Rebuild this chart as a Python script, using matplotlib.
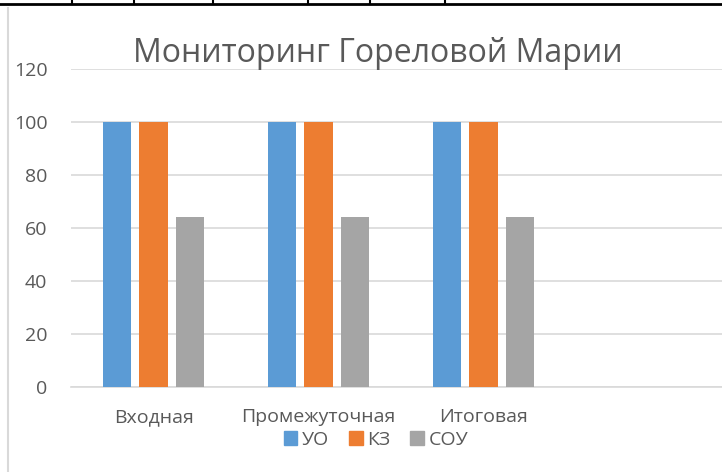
import numpy as np
import matplotlib.pyplot as plt
from matplotlib.lines import Line2D

# --- Data ---
categories = ['Входная', 'Промежуточная', 'Итоговая', '']
uo = [100, 100, 100, np.nan]
kz = [100, 100, 100, np.nan]
sou = [64, 64, 64, np.nan]
series_names = ['УО', 'КЗ', 'СОУ']
yticks = [0, 20, 40, 60, 80, 100, 120]

# Colors
COLOR_UO = '#5B9BD5'
COLOR_KZ = '#ED7D31'
COLOR_SOU = '#A5A5A5'
COLOR_TEXT = '#595959'
COLOR_GRID = '#D9D9D9'

plt.rcParams['font.family'] = ['Open Sans', 'DejaVu Sans']

W, H = 722, 472
fig = plt.figure(figsize=(W / 100, H / 100), dpi=100)
fig.patch.set_facecolor('white')

# plot area in pixels: x 71..731 (runs past the right edge), y 69..387
left, right = 71, 731
top, bottom = 69, 387
ax = fig.add_axes([left / W, 1 - bottom / H, (right - left) / W, (bottom - top) / H])

x = np.arange(len(categories))
bw = 0.17
off = 0.221
ax.bar(x - off, uo, bw, color=COLOR_UO, zorder=3)
ax.bar(x, kz, bw, color=COLOR_KZ, zorder=3)
ax.bar(x + off, sou, bw, color=COLOR_SOU, zorder=3)

ax.set_xlim(-0.5, len(categories) - 0.5)
ax.set_ylim(0, 120)
ax.set_yticks(yticks)
ax.yaxis.grid(True, color=COLOR_GRID, linewidth=1.2, zorder=0)
ax.set_xticks(x)
ax.set_xticklabels(categories)
ax.tick_params(axis='both', length=0, labelsize=14, colors=COLOR_TEXT)
ax.tick_params(axis='y', pad=17)
ax.tick_params(axis='x', pad=15)
for s in ['top', 'right', 'left']:
    ax.spines[s].set_visible(False)
ax.spines['bottom'].set_color(COLOR_GRID)
ax.spines['bottom'].set_linewidth(1.2)

fig.text(378 / W, 1 - 53 / H, 'Мониторинг Гореловой Марии', ha='center', va='center',
         fontsize=23, color=COLOR_TEXT)

# Legend
handles = [plt.Rectangle((0, 0), 1, 1, color=c) for c in (COLOR_UO, COLOR_KZ, COLOR_SOU)]
fig.legend(handles, series_names, loc='center', bbox_to_anchor=(376 / W, 1 - 440 / H),
           ncol=3, frameon=False, fontsize=14, labelcolor=COLOR_TEXT,
           handlelength=0.7, handleheight=0.7, handletextpad=0.25, columnspacing=1.0,
           borderpad=0)

# table border remnants at the top and left
fig.add_artist(Line2D([0, 1], [1 - 4 / H, 1 - 4 / H], color='black', linewidth=2))
for px in [72, 134, 213, 308, 370, 445]:
    fig.add_artist(Line2D([px / W, px / W], [1 - 4 / H, 1], color='black', linewidth=1.5))
fig.add_artist(Line2D([8 / W, 8 / W], [0, 1 - 8 / H], color=COLOR_GRID, linewidth=1.5))

fig.savefig('out.png', dpi=100)
